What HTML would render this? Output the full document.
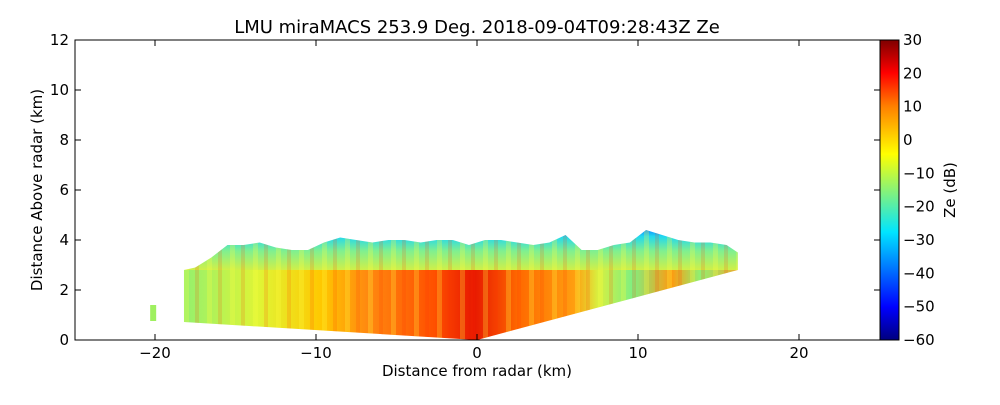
<!DOCTYPE html>
<html><head><meta charset="utf-8"><style>
body{margin:0;background:#fff;font-family:"Liberation Sans","DejaVu Sans",sans-serif}
svg text{font-family:"DejaVu Sans","Liberation Sans",sans-serif;fill:#000}
</style></head><body>
<svg id="c" width="1000" height="400" viewBox="0 0 1000 400">
<defs>
<linearGradient id="jet" x1="0" y1="1" x2="0" y2="0">
<stop offset="0" stop-color="#00007f"/><stop offset="0.11" stop-color="#0000ff"/><stop offset="0.36" stop-color="#00e5ff"/>
<stop offset="0.62" stop-color="#ffff00"/><stop offset="0.78" stop-color="#ff7f00"/><stop offset="0.89" stop-color="#ff0000"/><stop offset="1" stop-color="#7f0000"/>
</linearGradient>
<linearGradient id="low" gradientUnits="userSpaceOnUse" x1="180" y1="0" x2="745" y2="0">
<stop offset="0" stop-color="#90f070"/><stop offset="0.14" stop-color="#e0f535"/><stop offset="0.25" stop-color="#ffc800"/>
<stop offset="0.33" stop-color="#ff8a10"/><stop offset="0.45" stop-color="#ff5000"/><stop offset="0.52" stop-color="#e81800"/>
<stop offset="0.6" stop-color="#ff6a00"/><stop offset="0.7" stop-color="#ffa010"/><stop offset="0.74" stop-color="#d8f040"/>
<stop offset="0.8" stop-color="#80f080"/><stop offset="0.87" stop-color="#ff9a10"/><stop offset="0.92" stop-color="#90f070"/><stop offset="1" stop-color="#ffa020"/>
</linearGradient>
<linearGradient id="up" gradientUnits="userSpaceOnUse" x1="0" y1="230" x2="0" y2="272">
<stop offset="0" stop-color="#1090ff"/><stop offset="0.15" stop-color="#20d8f0"/><stop offset="0.5" stop-color="#80f090"/><stop offset="1" stop-color="#d8f040"/>
</linearGradient>
<pattern id="streaks" patternUnits="userSpaceOnUse" width="23" height="10">
<rect x="0" y="0" width="5" height="10" fill="#ffff40" opacity="0.25"/>
<rect x="11" y="0" width="4" height="10" fill="#ff3000" opacity="0.15"/>
</pattern>
<clipPath id="plotclip"><rect x="75" y="40" width="805" height="300"/></clipPath>
</defs>
<g id="echo" clip-path="url(#plotclip)"></g>
<rect x="75" y="40" width="805" height="300" fill="none" stroke="#000"/>
<g id="axes"></g>
<rect x="880" y="40" width="19" height="300" fill="url(#jet)" stroke="#000"/>
<text x="477" y="33" font-size="18" text-anchor="middle">LMU miraMACS 253.9 Deg. 2018-09-04T09:28:43Z  Ze</text>
<text x="477" y="376" font-size="15" text-anchor="middle">Distance from radar (km)</text>
<text transform="translate(42,190) rotate(-90)" font-size="15" text-anchor="middle">Distance Above radar  (km)</text>
<text transform="translate(955,190) rotate(-90)" font-size="15" text-anchor="middle">Ze (dB)</text>
</svg>
<script>
const xTicks=[-20,-10,0,10,20];
const yTicks=[0,2,4,6,8,10,12];
const cbTicks=[30,20,10,0,-10,-20,-30,-40,-50,-60];
const topX=[-17.5,-16.5,-15.5,-14.5,-13.5,-12.5,-11.5,-10.5,-9.5,-8.5,-7.5,-6.5,-5.5,-4.5,-3.5,-2.5,-1.5,-0.5,0.5,1.5,2.5,3.5,4.5,5.5,6.5,7.5,8.5,9.5,10.5,11.5,12.5,13.5,14.5,15.5,16.2];
const topH=[2.9,3.3,3.8,3.8,3.9,3.7,3.6,3.6,3.9,4.1,4.0,3.9,4.0,4.0,3.9,4.0,4.0,3.8,4.0,4.0,3.9,3.8,3.9,4.2,3.6,3.6,3.8,3.9,4.4,4.2,4.0,3.9,3.9,3.8,3.5];
const leftEdge=[-18.2,0.72];
const rightEdge=[16.2,2.8];
const meltH=2.8;
const X=v=>477+v*16.1, Y=v=>340-v*25, CB=v=>340-(v+60)/90*300;
const NS="http://www.w3.org/2000/svg";
function mk(t,a,p){const e=document.createElementNS(NS,t);for(const k in a)e.setAttribute(k,a[k]);p.appendChild(e);return e;}
const ax=document.getElementById('axes'), echo=document.getElementById('echo');
let pts=[[X(0),Y(0)],[X(leftEdge[0]),Y(leftEdge[1])],[X(leftEdge[0]),Y(2.8)]];
topX.forEach((x,i)=>pts.push([X(x),Y(topH[i])]));
pts.push([X(rightEdge[0]),Y(rightEdge[1])]);
const cp=mk('clipPath',{id:'echoclip'},document.querySelector('defs'));
mk('polygon',{points:pts.map(p=>p.join(',')).join(' ')},cp);
const g=mk('g',{'clip-path':'url(#echoclip)'},echo);
const up=mk('rect',{x:75,y:40,width:805,height:Y(meltH)-40,fill:'url(#up)'},g);


const lo=mk('rect',{x:75,y:Y(meltH),width:805,height:340-Y(meltH),fill:'url(#low)'},g);


const st=mk('rect',{x:75,y:40,width:805,height:300,fill:'url(#streaks)'},g);


const sp=mk('rect',{x:X(-20.3),y:Y(1.4),width:6,height:16,fill:'#9ff060'},echo);


xTicks.forEach(v=>{const x=X(v);
 mk('line',{x1:x,x2:x,y1:340,y2:334,stroke:'#000'},ax);mk('line',{x1:x,x2:x,y1:40,y2:46,stroke:'#000'},ax);
 const t=mk('text',{x:x,y:358,'font-size':15,'text-anchor':'middle'},ax);t.textContent=v<0?'\u2212'+(-v):v;
 
 });
yTicks.forEach(v=>{const y=Y(v);
 mk('line',{x1:75,x2:81,y1:y,y2:y,stroke:'#000'},ax);mk('line',{x1:880,x2:874,y1:y,y2:y,stroke:'#000'},ax);
 const t=mk('text',{x:69,y:y+5,'font-size':15,'text-anchor':'end'},ax);t.textContent=v;
 
 });
cbTicks.forEach(v=>{const y=CB(v);
 mk('line',{x1:899,x2:894,y1:y,y2:y,stroke:'#000'},ax);
 const t=mk('text',{x:903,y:y+5,'font-size':15},ax);t.textContent=v<0?'\u2212'+(-v):v;
 
 });
</script>
</body></html>
